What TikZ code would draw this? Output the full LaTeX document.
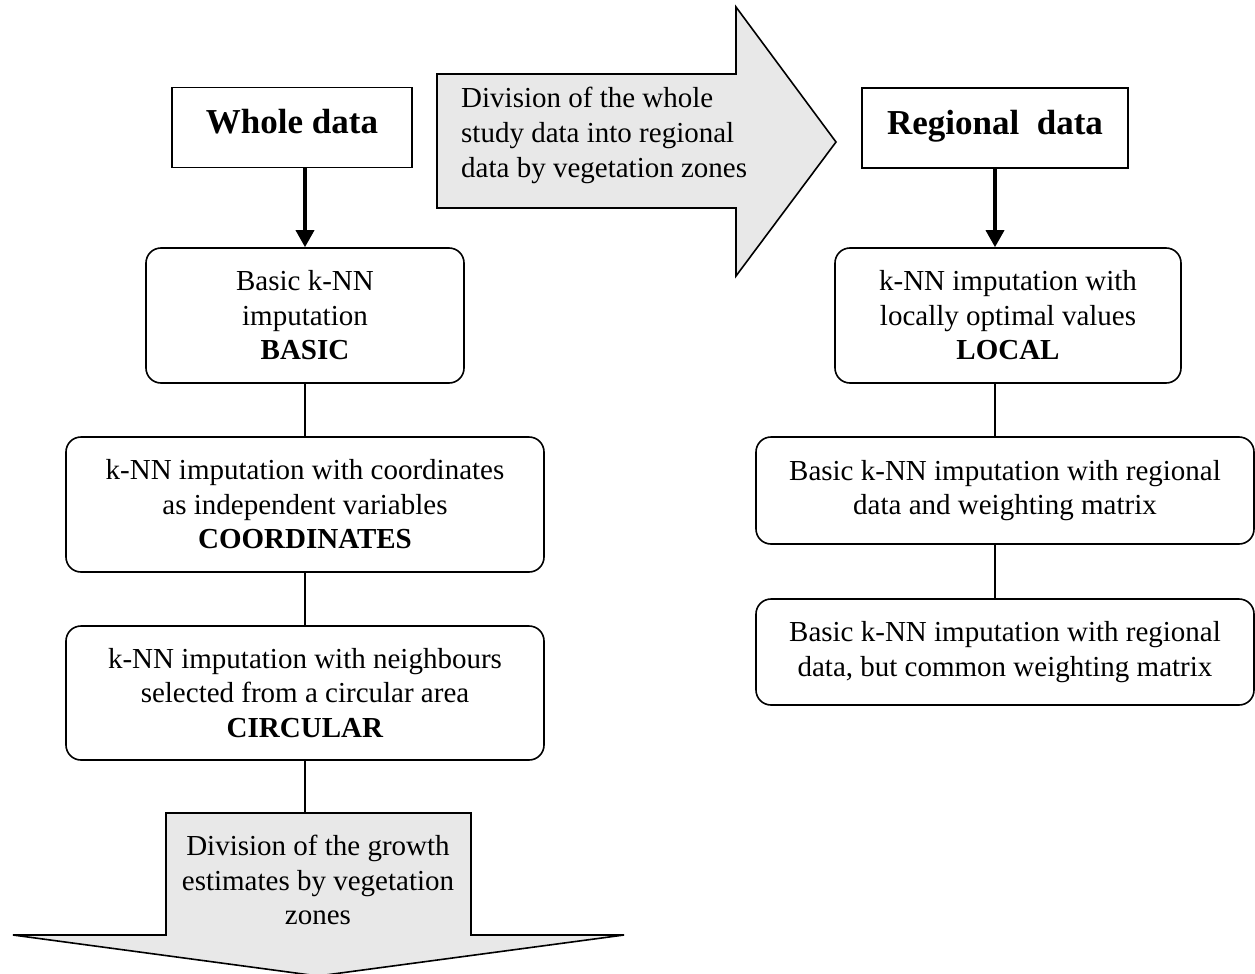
\documentclass[tikz,border=0pt]{standalone}
\usepackage{fontspec}
\setmainfont{Liberation Serif}
\usetikzlibrary{positioning}
\usetikzlibrary{arrows.meta}
\definecolor{zonegray}{gray}{0.91}

\tikzset{
	databox/.style={draw, line width=1.6pt, inner sep=0pt, minimum height=80pt, text depth=12pt, font=\fontsize{35}{40}\selectfont\bfseries},
	method/.style={draw, line width=1.6pt, rounded corners=15pt, inner sep=0pt, align=center, font=\fontsize{29}{34.5}\selectfont},
	zone/.style={draw, line width=1.6pt, fill=zonegray, line join=miter},
	link/.style={line width=1.4pt},
	pass/.style={line width=3.5pt, -{Triangle[width=18pt,length=17pt]}},
}

\begin{document}
\begin{tikzpicture}[x=1pt,y=-1pt]
	\fill[white] (0,0) rectangle (1255,974);
	\useasboundingbox (0,0) rectangle (1255,974);

	% division arrows
	\draw[zone] (437,74) -- (736,74) -- (736,7) -- (836,142) -- (736,276) -- (736,208) -- (437,208) -- cycle;
	\node[inner sep=0pt, anchor=west, align=left, font=\fontsize{29}{35}\selectfont] (split) at (461,135) {Division of the whole\\study data into regional\\data by vegetation zones};

	\draw[zone] (166,813) -- (471,813) -- (471,935) -- (624,935) -- (318,976) -- (13,935) -- (166,935) -- cycle;
	\coordinate (gtop) at (318,813);
	\node[inner sep=0pt, align=center, font=\fontsize{29}{34.5}\selectfont] (growth) at (318,880) {Division of the growth\\estimates by vegetation\\zones};

	% whole data
	\node[databox, minimum width=240pt] (whole) at (292,127.5) {Whole data};
	\node[method, minimum width=318pt, minimum height=135pt] (basic) at (305,315.5) {Basic k-NN\\imputation\\\textbf{BASIC}};
	\node[method, minimum width=478pt, minimum height=135pt] (coords) at (305,504.5) {k-NN imputation with coordinates\\as independent variables\\\textbf{COORDINATES}};
	\node[method, minimum width=478pt, minimum height=134pt] (circ) at (305,693) {k-NN imputation with neighbours\\selected from a circular area\\\textbf{CIRCULAR}};

	\draw[pass] (basic.north |- whole.south) -- (basic.north);
	\draw[link] (basic.south) -- (coords.north);
	\draw[link] (coords.south) -- (circ.north);
	\draw[link] (circ.south) -- (circ.south |- gtop);

	% regional data
	\node[databox, minimum width=266pt] (regional) at (995,128) {Regional\ \ data};
	\node[method, minimum width=346pt, minimum height=135pt] (local) at (1008,315.5) {k-NN imputation with\\locally optimal values\\\textbf{LOCAL}};
	\node[method, minimum width=498pt, minimum height=107pt] (regwm) at (1005,490.5) {Basic k-NN imputation with regional\\data and weighting matrix};
	\node[method, minimum width=498pt, minimum height=106pt] (regcw) at (1005,652) {Basic k-NN imputation with regional\\data, but common weighting matrix};

	\draw[pass] (regional.south) -- (regional.south |- local.north);
	\draw[link] (regional.south |- local.south) -- (regional.south |- regwm.north);
	\draw[link] (regional.south |- regwm.south) -- (regional.south |- regcw.north);
\end{tikzpicture}
\end{document}
